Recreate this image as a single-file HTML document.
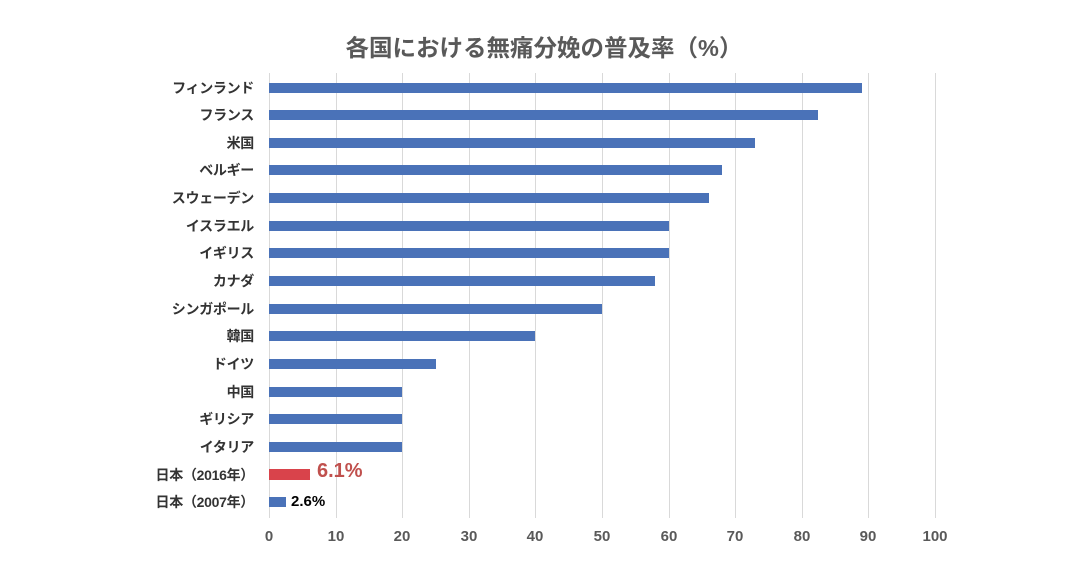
<!DOCTYPE html>
<html><head><meta charset="utf-8"><style>
body{margin:0;background:#fff;}
#c{position:relative;width:1088px;height:567px;overflow:hidden;font-family:"Liberation Sans","Noto Sans CJK JP",sans-serif;}
.t{position:absolute;left:0;width:1088px;top:29px;text-align:center;font-size:23.5px;font-weight:bold;color:#595959;}
.g{position:absolute;top:73px;height:445px;width:1px;background:#d9d9d9;}
.bar{position:absolute;left:269px;height:10px;background:#4a72b8;}
.lab{position:absolute;right:834px;font-size:14px;font-weight:bold;color:#333;white-space:nowrap;line-height:16px;letter-spacing:-0.3px;}
.x{position:absolute;top:528px;width:40px;margin-left:-20px;text-align:center;font-size:15px;font-weight:bold;color:#595959;}
</style></head><body><div id="c">
<div class="t">各国における無痛分娩の普及率（%）</div>
<script>
var c=document.getElementById('c');
for(var i=0;i<=10;i++){var x=269+i*66.6;var d=document.createElement('div');d.className='g';d.style.left=Math.round(x)+'px';c.appendChild(d);
var l=document.createElement('div');l.className='x';l.style.left=Math.round(x)+'px';l.textContent=i*10;c.appendChild(l);}
var data=[["フィンランド",89],["フランス",82.5],["米国",73],["ベルギー",68],["スウェーデン",66],["イスラエル",60],["イギリス",60],["カナダ",58],["シンガポール",50],["韓国",40],["ドイツ",25],["中国",20],["ギリシア",20],["イタリア",20],["日本（2016年）",6.1],["日本（2007年）",2.6]];
for(var k=0;k<data.length;k++){var yc=87.5+k*27.65;
var b=document.createElement('div');b.className='bar';var h=(k==14)?11:10;b.style.top=Math.round(yc-h/2)+'px';b.style.height=h+'px';b.style.width=Math.round(data[k][1]*6.66)+'px';if(k==14)b.style.background='#d9434b';c.appendChild(b);
var l=document.createElement('div');l.className='lab';l.style.top=Math.round(yc-8)+'px';l.textContent=data[k][0];c.appendChild(l);}
</script>
<div style="position:absolute;left:317px;top:460px;font-size:20px;font-weight:bold;color:#c0504d;">6.1%</div>
<div style="position:absolute;left:291px;top:493px;font-size:15px;font-weight:bold;color:#000;">2.6%</div>
</div></body></html>
